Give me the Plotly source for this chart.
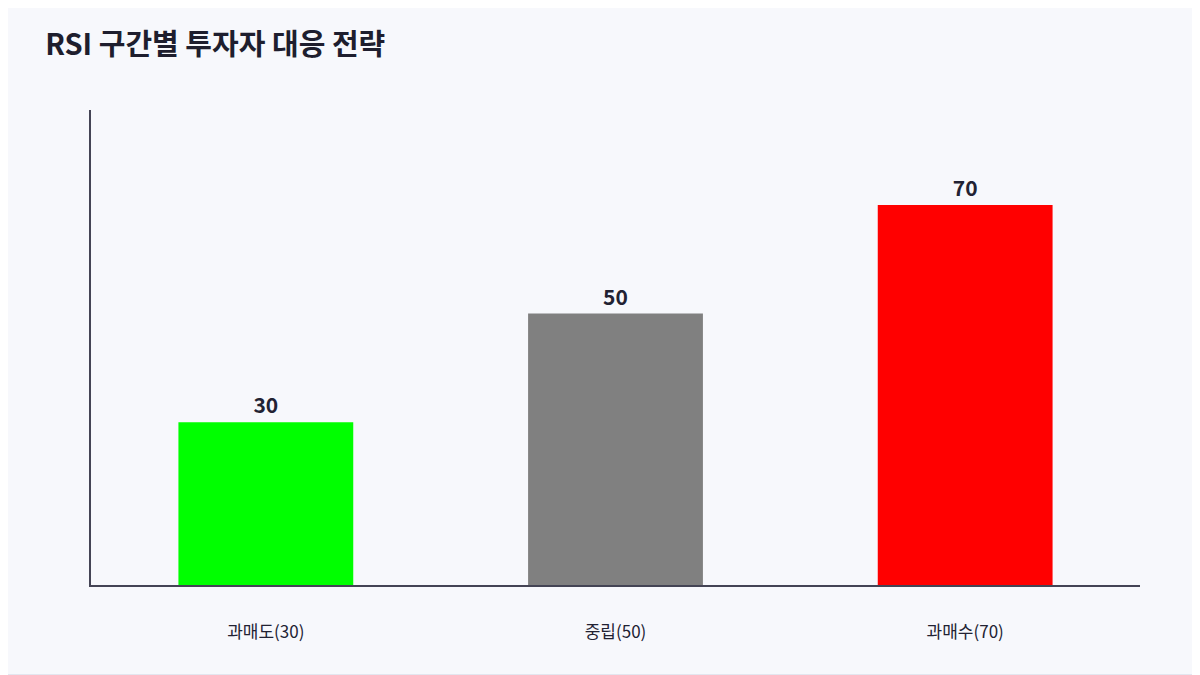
import plotly.graph_objects as go

categories = ["과매도(30)", "중립(50)", "과매수(70)"]
values = [30, 50, 70]
colors = ["#00ff00", "#808080", "#ff0000"]

fig = go.Figure(go.Bar(
    x=categories,
    y=values,
    marker=dict(color=colors, line=dict(width=0)),
    text=values,
    textposition="outside",
    textfont=dict(size=21, color="#222233", family="Noto Sans CJK KR", weight="bold"),
    cliponaxis=False,
))

fig.update_layout(
    width=1200, height=675,
    paper_bgcolor="#f7f8fc",
    plot_bgcolor="#f7f8fc",
    font=dict(family="Noto Sans CJK KR", color="#222233"),
    title=dict(text="<b>RSI 구간별 투자자 대응 전략</b>", x=0.031, y=0.945,
               xanchor="left", yanchor="middle",
               font=dict(size=29, color="#1e1e2e")),
    margin=dict(l=83, r=68, t=102, b=98),
    bargap=0.5,
    showlegend=False,
    shapes=[dict(type="rect", xref="paper", yref="paper",
                 x0=-0.0868, x1=1.0562, y0=-0.1895, y1=1.2316,
                 line=dict(color="#dde0ea", width=1.5))],
)
fig.update_xaxes(showline=True, linecolor="#444455", linewidth=1.5,
                 ticks="", tickfont=dict(size=17, color="#222233"),
                 ticklabelstandoff=31)
fig.update_yaxes(range=[0, 87.5], showline=True, linecolor="#444455", linewidth=1.5,
                 showgrid=False, zeroline=False, showticklabels=False, ticks="")

fig.write_html("out.html")
